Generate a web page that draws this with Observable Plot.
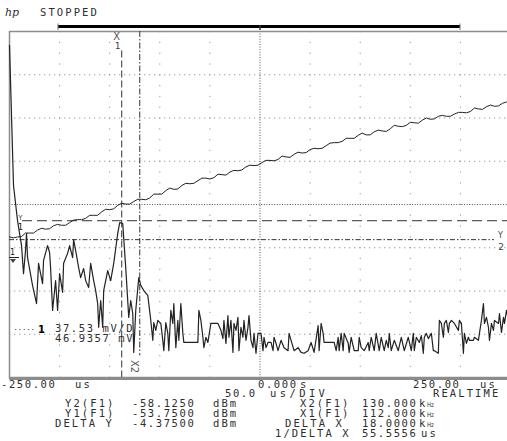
<!DOCTYPE html>
<html><head><meta charset="utf-8">
<script src="https://cdn.jsdelivr.net/npm/d3@7"></script>
<script src="https://cdn.jsdelivr.net/npm/@observablehq/plot@0.6"></script>
<style>
html,body{margin:0;padding:0;background:#fff;overflow:hidden}
#wrap{position:relative;width:507px;height:441px;overflow:hidden;background:#fff}
#wrap svg{position:absolute;left:0;top:0}
.t{font-family:"DejaVu Sans Mono",monospace;font-size:10.5px;letter-spacing:2.1px;fill:#2e2e2e}
.n{font-family:"DejaVu Sans Mono",monospace;font-size:10.5px;letter-spacing:1.6px;fill:#2e2e2e}
</style></head><body><div id="wrap"></div>
<script>
// ---- data ----
const gridFreq = [50, 100, 150, 200, 300, 350, 400, 450];      // kHz (50 us/div)
const gridLevel = [-20, -30, -40, -60, -70, -80];              // dBm (10 dB/div)
const centerFreq = [250];
const centerLevel = [-50];
const cursorX = [112, 130];          // X1, X2 (kHz)
const cursorY = [-53.75, -58.125];   // Y1, Y2 (dBm)
const readY = ["-58.1250", "-53.7500", "-4.37500"];
const readX = ["130.000", "112.000", "18.0000", "55.5556"];
const channel1 = ["37.53 mV/D", "46.9357 mV"];

// F1 = FFT of channel 1 : [kHz, dBm]
const fftPoints = [[0,-13.2],[4,-45.6],[8,-53.7],[12,-59.5],[14,-66.0],[16,-60.6],[17,-56.7],[18,-62.3],[23,-68.7],[27,-72.9],[29,-63.6],[33,-68.3],[34,-62.9],[38,-59.5],[40,-61.1],[41,-64.6],[43,-74.5],[46,-67.6],[48,-74.5],[50,-66.0],[53,-70.3],[54,-63.6],[58,-61.3],[60,-59.5],[63,-62.3],[64,-58.1],[66,-60.6],[69,-64.6],[71,-66.9],[74,-64.8],[76,-67.6],[79,-69.2],[81,-63.6],[84,-67.6],[86,-69.9],[88,-72.9],[89,-78.4],[91,-72.2],[93,-78.4],[94,-69.9],[98,-65.3],[101,-67.6],[104,-63.6],[108,-56.7],[110,-54.2],[113,-54.4],[116,-64.6],[119,-76.1],[121,-72.2],[123,-75.2],[124,-84.2],[126,-74.5],[129,-66.9],[131,-68.7],[134,-69.9],[138,-71.0],[139,-72.9],[141,-76.8],[143,-81.4],[144,-77.3],[146,-79.1],[148,-76.8],[151,-77.5],[153,-81.4],[154,-83.8],[156,-77.3],[158,-79.8],[159,-83.8],[161,-74.5],[163,-77.5],[164,-72.9],[166,-83.1],[168,-76.8],[169,-81.4],[171,-72.9],[173,-79.8],[174,-81.9],[188,-81.9],[189,-74.5],[191,-76.8],[193,-80.7],[194,-83.1],[196,-80.7],[198,-81.9],[201,-77.5],[208,-77.5],[211,-79.1],[213,-81.0],[214,-76.8],[216,-82.1],[218,-75.7],[219,-80.7],[221,-76.8],[223,-84.2],[224,-77.5],[226,-79.1],[228,-76.1],[229,-83.8],[231,-78.4],[233,-80.7],[234,-76.8],[236,-81.4],[238,-78.4],[239,-75.7],[241,-81.4],[243,-83.1],[244,-79.8],[246,-84.4],[248,-79.8],[251,-79.8],[253,-83.8],[254,-80.7],[256,-83.1],[258,-81.9],[261,-81.9],[263,-83.8],[264,-80.7],[266,-82.1],[268,-83.8],[271,-81.4],[274,-83.1],[278,-83.8],[279,-79.8],[281,-81.4],[284,-83.8],[288,-83.1],[291,-84.2],[294,-84.4],[298,-83.8],[301,-81.9],[304,-84.2],[308,-78.0],[309,-83.8],[311,-77.5],[313,-79.8],[314,-81.9],[324,-81.9],[326,-83.8],[328,-80.7],[329,-83.8],[331,-79.8],[333,-83.8],[334,-79.8],[338,-82.1],[339,-84.2],[341,-80.7],[344,-83.8],[348,-83.8],[349,-80.7],[351,-83.1],[354,-83.8],[358,-81.9],[359,-83.8],[361,-80.7],[364,-83.8],[366,-79.8],[369,-83.8],[371,-80.7],[374,-83.8],[376,-81.4],[378,-83.1],[379,-79.8],[381,-83.8],[384,-81.4],[388,-83.8],[391,-80.7],[394,-83.8],[398,-80.7],[401,-83.8],[403,-79.8],[404,-83.8],[406,-80.7],[409,-81.9],[411,-80.3],[413,-84.4],[414,-80.7],[416,-79.8],[418,-81.0],[421,-79.8],[423,-83.8],[424,-83.8],[428,-84.4],[429,-76.8],[431,-77.5],[433,-80.7],[434,-77.5],[436,-76.8],[438,-79.6],[439,-77.5],[441,-76.8],[444,-77.5],[448,-79.1],[449,-76.8],[451,-77.5],[453,-84.4],[454,-79.8],[456,-82.1],[458,-80.7],[459,-81.4],[463,-81.4],[464,-80.7],[468,-81.4],[469,-79.8],[471,-76.8],[473,-72.9],[474,-77.5],[476,-76.1],[478,-78.4],[479,-81.4],[481,-77.5],[483,-79.1],[484,-76.8],[488,-77.5],[489,-75.2],[491,-79.6],[493,-76.1],[494,-77.5],[496,-74.5],[498,-76.8],[501,-75.7]];

// channel 1 time trace, shown on the same graticule
const rampPoints = [[0,-57.5],[4,-57.7],[8,-57.5],[12,-57.4],[16,-56.6],[20,-56.6],[24,-56.6],[28,-55.9],[32,-55.5],[36,-55.7],[40,-55.6],[44,-54.9],[48,-54.6],[52,-54.8],[56,-54.8],[60,-54.2],[64,-53.6],[68,-53.5],[72,-53.5],[76,-53.2],[80,-52.5],[84,-52.5],[88,-52.5],[92,-51.7],[96,-51.1],[100,-51.2],[104,-51.0],[108,-50.2],[112,-49.7],[116,-49.9],[120,-49.9],[124,-49.3],[128,-48.8],[132,-48.8],[136,-48.9],[140,-48.5],[144,-47.6],[148,-47.6],[152,-47.6],[156,-46.8],[160,-46.2],[164,-46.5],[168,-46.4],[172,-45.6],[176,-45.1],[180,-45.2],[184,-45.1],[188,-44.5],[192,-43.9],[196,-43.9],[200,-44.1],[204,-43.8],[208,-43.0],[212,-43.1],[216,-43.2],[220,-42.5],[224,-42.1],[228,-42.2],[232,-42.0],[236,-41.3],[240,-40.9],[244,-41.0],[248,-40.9],[252,-40.3],[256,-39.8],[260,-39.8],[264,-39.9],[268,-39.6],[272,-38.8],[276,-39.0],[280,-39.1],[284,-38.4],[288,-37.9],[292,-38.1],[296,-38.0],[300,-37.3],[304,-37.0],[308,-37.1],[312,-37.0],[316,-36.4],[320,-35.8],[324,-35.7],[328,-35.7],[332,-35.4],[336,-34.7],[340,-34.7],[344,-34.7],[348,-34.0],[352,-33.5],[356,-33.9],[360,-33.9],[364,-33.2],[368,-32.8],[372,-33.0],[376,-33.1],[380,-32.5],[384,-31.7],[388,-31.9],[392,-32.0],[396,-31.7],[400,-31.0],[404,-31.1],[408,-31.2],[412,-30.5],[416,-30.0],[420,-30.3],[424,-30.2],[428,-29.6],[432,-29.4],[436,-29.6],[440,-29.6],[444,-29.1],[448,-28.7],[452,-28.7],[456,-28.8],[460,-28.5],[464,-27.7],[468,-27.9],[472,-28.0],[476,-27.4],[480,-27.0],[484,-27.3],[488,-27.2],[492,-26.6],[496,-26.3],[500,-26.6]];

// ---- plot ----
const dark = "#222";
const plot = Plot.plot({
  width: 507, height: 441,
  marginLeft: 9, marginRight: -3, marginTop: 31, marginBottom: 64,
  x: {domain: [0, 500], axis: null},
  y: {domain: [-90, -10], axis: null},
  style: {background: "transparent", overflow: "visible"},
  marks: [
    Plot.ruleX(gridFreq, {stroke: "#9a9a9a", strokeWidth: 1, strokeDasharray: "1.3,9.5"}),
    Plot.ruleY(gridLevel, {stroke: "#9a9a9a", strokeWidth: 1, strokeDasharray: "1.3,3.7"}),
    Plot.ruleX(centerFreq, {stroke: "#555", strokeWidth: 1, strokeDasharray: "1,1.6"}),
    Plot.ruleY(centerLevel, {stroke: "#555", strokeWidth: 1, strokeDasharray: "1,1.6"}),
    Plot.frame({stroke: "#8c8c8c", strokeWidth: 1.5}),
    Plot.ruleY([-90], {stroke: "#8c8c8c", strokeWidth: 3, dy: 1}),
    // cursors
    Plot.ruleX([cursorX[0]], {x: d => d, y1: -14.5, y2: -90, stroke: "#333", strokeDasharray: "7,3"}),
    Plot.ruleX([cursorX[1]], {x: d => d, y1: -10, y2: -85, stroke: "#333", strokeDasharray: "6,2,1.5,2"}),
    Plot.ruleY([cursorY[0]], {y: d => d, x1: 13, x2: 500, stroke: "#333", strokeDasharray: "10,5"}),
    Plot.ruleY([cursorY[1]], {y: d => d, x1: 0, x2: 484, stroke: "#333", strokeDasharray: "5,2,1.5,2"}),
    // traces
    Plot.line(rampPoints, {x: d => d[0], y: d => d[1], stroke: dark, strokeWidth: 1}),
    Plot.line(fftPoints, {x: d => d[0], y: d => d[1], stroke: dark, strokeWidth: 1.2}),
    // cursor labels
    Plot.text([cursorX[0]], {x: d => d, y: () => -10, text: () => "X", dx: -5, dy: 5.5, fontSize: 10, fill: "#555", fontFamily: "DejaVu Sans"}),
    Plot.text([cursorX[0]], {x: d => d, y: () => -10, text: () => "1", dx: -4, dy: 15, fontSize: 8.5, fill: "#333", fontFamily: "DejaVu Sans"}),
    Plot.text([cursorX[1]], {x: d => d, y: () => -90, text: () => "X2", rotate: 90, dx: -6, dy: -11, fontSize: 10, fill: "#555", fontFamily: "DejaVu Sans"}),
    Plot.text([cursorY[0]], {x: () => 0, y: d => d, text: () => "Y", dx: 11, dy: -2.5, fontSize: 7, fill: "#444", fontFamily: "DejaVu Sans"}),
    Plot.text([cursorY[0]], {x: () => 0, y: d => d, text: () => "1", dx: 11, dy: 7, fontSize: 8.5, fill: "#222", fontFamily: "DejaVu Sans"}),
    Plot.text([cursorY[1]], {x: () => 500, y: d => d, text: () => "Y", dx: -10, dy: -4, fontSize: 8, fill: "#444", fontFamily: "DejaVu Sans"}),
    Plot.text([cursorY[1]], {x: () => 500, y: d => d, text: () => "2", dx: -9.5, dy: 7, fontSize: 9, fill: "#444", fontFamily: "DejaVu Sans"})
  ]
});
const wrap = document.getElementById("wrap");
wrap.appendChild(plot);

// ---- overlay text (header, readouts) ----
const ov = d3.select(wrap).append("svg").attr("width", 507).attr("height", 441);
// memory bar
ov.append("line").attr("x1", 58).attr("x2", 460).attr("y1", 26.5).attr("y2", 26.5).attr("stroke", "#000").attr("stroke-width", 3);
[58, 460].forEach(x => ov.append("line").attr("x1", x).attr("x2", x).attr("y1", 23.5).attr("y2", 30).attr("stroke", "#777").attr("stroke-width", 1));
ov.append("line").attr("x1", 260).attr("x2", 260).attr("y1", 25).attr("y2", 30).attr("stroke", "#333").attr("stroke-width", 1.5);
ov.append("text").attr("x", 5).attr("y", 16).text("hp").attr("font-family", "DejaVu Serif").attr("font-style", "italic").attr("font-size", 11).attr("fill", "#333");
const T = (s, x, y, cls = "t") => ov.append("text").attr("class", cls).attr("x", x).attr("y", y).text(s);
const Hz = (x, y) => ov.append("text").attr("x", x).attr("y", y).attr("font-size", 6.5).attr("font-family", "DejaVu Sans Condensed, DejaVu Sans").attr("fill", "#2e2e2e").attr("textLength", 7).attr("lengthAdjust", "spacingAndGlyphs").text("Hz");
T("STOPPED", 40, 15.5);
// time axis
T("-250.00", 1, 388, "n"); T("us", 75, 388);
T("0.000", 258, 388, "n"); T("s", 300, 388);
T("250.00", 413, 388, "n"); T("us", 480, 388);
T("50.0", 225, 397, "n");
ov.append("text").attr("class", "t").attr("x", 270).attr("y", 397).style("letter-spacing", "3.4px").text("us/DIV");
T("REALTIME", 433, 397);
// readouts
const rowsY = [407, 417, 427];
const yNames = ["Y2(F1)", "Y1(F1)", "DELTA Y"];
const xNames = ["X2(F1)", "X1(F1)", "DELTA X"];
rowsY.forEach((y, i) => {
  T(yNames[i], i === 2 ? 55 : 65, y);
  T(readY[i], 132, y, "n");
  T("dBm", 213, y);
  T(xNames[i], i === 2 ? 285 : 300, y);
  T(readX[i], 362, y, "n");
  ov.append("text").attr("class", "n").attr("x", 419).attr("y", y).style("letter-spacing", "0px").text("k");
  Hz(427, y);
});
T("1/DELTA X", 275, 436.5); T(readX[3], 362, 436.5, "n"); T("us", 421, 436.5);
// channel 1 marker and scale
ov.append("text").attr("x", 10).attr("y", 255).attr("font-size", 8).attr("font-family", "DejaVu Sans").attr("fill", "#222").text("1");
ov.append("line").attr("x1", 9).attr("x2", 19).attr("y1", 257.5).attr("y2", 257.5).attr("stroke", "#222");
ov.append("path").attr("d", "M10,259 L16,259 L13,263 Z").attr("fill", "#444");
ov.append("line").attr("x1", 15).attr("x2", 36).attr("y1", 329.5).attr("y2", 329.5).attr("stroke", "#666").attr("stroke-dasharray", "1.3,3");
ov.append("text").attr("x", 38).attr("y", 333).attr("font-size", 10).attr("font-weight", "bold").attr("font-family", "DejaVu Sans").attr("fill", "#000").text("1");
ov.append("text").attr("class", "n").attr("x", 55).attr("y", 331.5).text(channel1[0]);
ov.append("text").attr("class", "n").attr("x", 55).attr("y", 341.5).text(channel1[1]);
</script></body></html>
